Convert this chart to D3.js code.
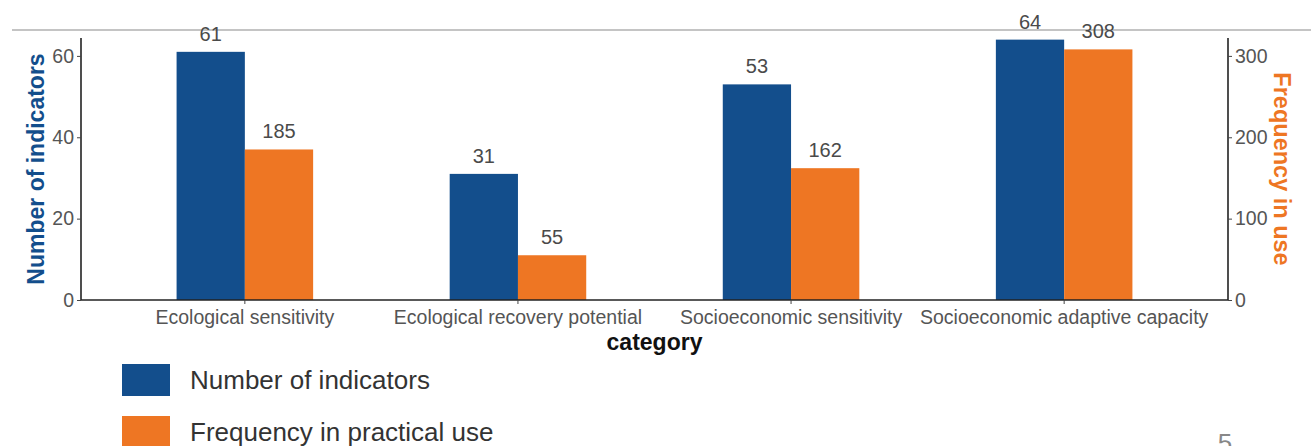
<!DOCTYPE html>
<html><head><meta charset="utf-8">
<script src="https://cdn.jsdelivr.net/npm/d3@7/dist/d3.min.js"></script>
<style>body{margin:0;background:#fff;}svg{display:block;font-family:"Liberation Sans",Arial,sans-serif;}</style>
</head><body>
<svg id="c" width="1311" height="446"></svg>
<script>
const categories = ["Ecological sensitivity","Ecological recovery potential","Socioeconomic sensitivity","Socioeconomic adaptive capacity"];
const indicatorCounts = [61, 31, 53, 64];
const frequencyInUse = [185, 55, 162, 308];
const leftTicks = [0, 20, 40, 60];
const rightTicks = [0, 100, 200, 300];
const seriesNames = ["Number of indicators", "Frequency in practical use"];
const seriesColors = ["#134e8c", "#ee7623"];

const svg = d3.select("#c");
const L = 81, R = 1228, T = 38, B = 300;
const ratio = 5;

const x = d3.scaleBand().domain(categories).range([L, R]).paddingInner(0).paddingOuter(0.1);
const step = x.step();
const x1 = d3.scaleBand().domain([0,1]).range([0, step*0.5]);
const yL = d3.scaleLinear().domain([0, 64.4]).range([B, T]);
const yR = d3.scaleLinear().domain([0, 64.4*ratio]).range([B, T]);

// top separator line
svg.append("line").attr("x1",12).attr("x2",1311).attr("y1",30).attr("y2",30)
  .attr("stroke","#c4c4c4").attr("stroke-width",2);

const data = categories.map((c,i)=>({c, v:[indicatorCounts[i], frequencyInUse[i]]}));

const g = svg.append("g");
data.forEach(d=>{
  const x0 = x(d.c) + step*0.25;
  [0,1].forEach(s=>{
    const sc = s===0 ? yL : yR;
    g.append("rect").attr("x", x0 + x1(s)).attr("width", x1.bandwidth())
      .attr("y", sc(d.v[s])).attr("height", B - sc(d.v[s])).attr("fill", seriesColors[s]);
    g.append("text").attr("x", x0 + x1(s) + x1.bandwidth()/2).attr("y", sc(d.v[s]) - 11)
      .attr("text-anchor","middle").attr("font-size",20).attr("fill","#4a4a4a").text(d.v[s]);
  });
});

// axes
const axL = svg.append("g").attr("transform",`translate(${L},0)`)
  .call(d3.axisLeft(yL).tickValues(leftTicks).tickSize(4).tickPadding(3));
const axR = svg.append("g").attr("transform",`translate(${R},0)`)
  .call(d3.axisRight(yR).tickValues(rightTicks).tickSize(4).tickPadding(3));
const axB = svg.append("g").attr("transform",`translate(0,${B})`)
  .call(d3.axisBottom(x).tickSize(4).tickPadding(6).tickSizeOuter(0));
[axL, axR, axB].forEach(a=>{
  a.attr("font-family","Liberation Sans, Arial, sans-serif");
  a.select(".domain").attr("stroke","#222").attr("stroke-width",1.6);
  a.selectAll(".tick line").attr("stroke","#444");
  a.selectAll(".tick text").attr("font-size",19.5).attr("fill","#555");
});
axL.select(".domain").attr("d",`M0,${T}V${B}`);
axR.select(".domain").attr("d",`M0,${T}V${B}`);
axB.select(".domain").attr("d",`M${L},0H${R}`);

// axis titles
svg.append("text").attr("x",(L+R)/2).attr("y",350).attr("text-anchor","middle")
  .attr("font-size",23).attr("font-weight","bold").attr("fill","#111").text("category");
svg.append("text").attr("transform",`translate(36,${(T+B)/2}) rotate(-90)`).attr("text-anchor","middle")
  .attr("dy","0.35em").attr("font-size",23).attr("font-weight","bold").attr("fill",seriesColors[0]).text("Number of indicators");
svg.append("text").attr("transform",`translate(1282,${(T+B)/2}) rotate(90)`).attr("text-anchor","middle")
  .attr("dy","0.35em").attr("font-size",23.5).attr("font-weight","bold").attr("fill",seriesColors[1]).text("Frequency in use");

// legend
seriesNames.forEach((n,i)=>{
  const yy = 364 + i*52;
  svg.append("rect").attr("x",122).attr("y",yy).attr("width",48).attr("height",32).attr("fill",seriesColors[i]);
  svg.append("text").attr("x",190).attr("y",yy+25).attr("font-size",26).attr("fill","#333").text(n);
});

// page number
svg.append("text").attr("x",1225).attr("y",452).attr("text-anchor","middle").attr("font-size",26).attr("fill","#888").text("5");
</script>
</body></html>
